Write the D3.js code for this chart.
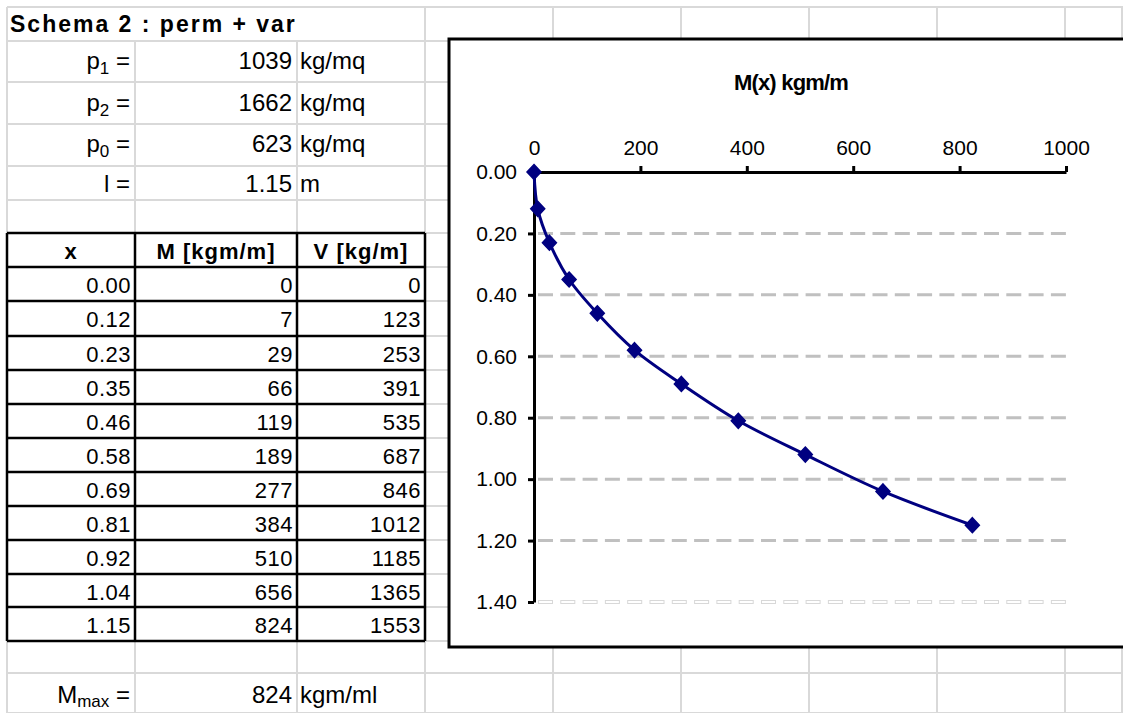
<!DOCTYPE html>
<html>
<head>
<meta charset="utf-8">
<script src="https://cdn.jsdelivr.net/npm/d3@7"></script>
<style>
  html, body { margin: 0; padding: 0; background: #fff; }
  svg { display: block; font-family: "Liberation Sans", Arial, sans-serif; }
  .cell { font-size: 22px; fill: #000; }
  .param { font-size: 24px; fill: #000; }
  .tick text { font-size: 21px; font-family: "Liberation Sans", Arial, sans-serif; fill: #000; }
</style>
</head>
<body>
<svg id="sheet" width="1123" height="713"></svg>
<script>
// spreadsheet data
const title = "Schema 2 : perm + var"
const paramLabels = [["p", "1"], ["p", "2"], ["p", "0"], ["l", ""]]
const paramValues = ["1039", "1662", "623", "1.15"]
const paramUnits = ["kg/mq", "kg/mq", "kg/mq", "m"]

const headers = ["x", "M [kgm/m]", "V [kg/m]"]
const xVals = [0.00, 0.12, 0.23, 0.35, 0.46, 0.58, 0.69, 0.81, 0.92, 1.04, 1.15]
const mVals = [0, 7, 29, 66, 119, 189, 277, 384, 510, 656, 824]
const vVals = [0, 123, 253, 391, 535, 687, 846, 1012, 1185, 1365, 1553]

const mMax = "824"
const mMaxUnit = "kgm/ml"

// chart axis setup
const chartTitle = "M(x) kgm/m"
const xTicks = [0, 200, 400, 600, 800, 1000]
const yTicks = [0, 0.2, 0.4, 0.6, 0.8, 1.0, 1.2, 1.4]

// sheet geometry
const colX = [7, 135, 297, 425, 553, 681, 809, 937, 1065, 1122]
const rowY = [7, 41, 82, 124, 166, 200, 233, 267, 301, 336, 370, 404, 438, 472, 506, 540, 574, 607, 641, 673, 713]

const svg = d3.select("#sheet")
const gridColor = "#d9d9d9"

// gray cell grid
const grid = svg.append("g").attr("stroke", gridColor).attr("stroke-width", 2)
grid.selectAll("line.h")
    .data(rowY)
    .join("line")
    .attr("x1", colX[0]).attr("x2", 1123)
    .attr("y1", d => d).attr("y2", d => d)
grid.selectAll("line.v")
    .data(colX)
    .join("line")
    .attr("x1", d => d).attr("x2", d => d)
    .attr("y1", (d, i) => (i == 1 || i == 2) ? rowY[1] : rowY[0])
    .attr("y2", 713)

// title row
svg.append("text")
    .attr("x", 10).attr("y", 32)
    .attr("font-size", 23)
    .attr("font-weight", "bold")
    .attr("letter-spacing", 2)
    .text(title)

// parameter rows
const paramBase = [69, 111, 152, 192]
const params = svg.append("g").attr("class", "param")
paramLabels.forEach((p, i) => {
    const t = params.append("text")
        .attr("x", 130).attr("y", paramBase[i])
        .attr("text-anchor", "end")
    t.append("tspan").text(p[0])
    if (p[1]) t.append("tspan").attr("font-size", 17).attr("dy", 5).text(p[1])
    t.append("tspan").attr("dy", p[1] ? -5 : 0).text(" =")
    params.append("text")
        .attr("x", 292).attr("y", paramBase[i])
        .attr("text-anchor", "end")
        .text(paramValues[i])
    params.append("text")
        .attr("x", 300).attr("y", paramBase[i])
        .text(paramUnits[i])
})

// data table
const tableTop = rowY[6]
const tableBottom = rowY[18]
const table = svg.append("g")
table.append("rect")
    .attr("x", colX[0]).attr("y", tableTop)
    .attr("width", colX[3] - colX[0]).attr("height", tableBottom - tableTop)
    .attr("fill", "#fff")
table.selectAll("line.rows")
    .data(rowY.slice(6, 19))
    .join("line")
    .attr("x1", colX[0]).attr("x2", colX[3])
    .attr("y1", d => d).attr("y2", d => d)
    .attr("stroke", "#000").attr("stroke-width", 2.5)
table.selectAll("line.cols")
    .data(colX.slice(0, 4))
    .join("line")
    .attr("x1", d => d).attr("x2", d => d)
    .attr("y1", tableTop).attr("y2", tableBottom)
    .attr("stroke", "#000").attr("stroke-width", 2.5)

table.selectAll("text.head")
    .data(headers)
    .join("text")
    .attr("class", "cell")
    .attr("font-weight", "bold")
    .attr("letter-spacing", 1)
    .attr("text-anchor", "middle")
    .attr("x", (d, i) => (colX[i] + colX[i + 1]) / 2)
    .attr("y", tableTop + 26)
    .text(d => d)

const rows = xVals.map((x, i) => [x.toFixed(2), String(mVals[i]), String(vVals[i])])
rows.forEach((r, i) => {
    table.selectAll("text.r" + i)
        .data(r)
        .join("text")
        .attr("class", "cell")
        .attr("text-anchor", "end")
        .attr("letter-spacing", 0.5)
        .attr("x", (d, j) => colX[j + 1] - 4)
        .attr("y", rowY[7 + i] + 26)
        .text(d => d)
})

// M max row
const mmax = svg.append("g").attr("class", "param")
const mt = mmax.append("text").attr("x", 130).attr("y", 703).attr("text-anchor", "end")
mt.append("tspan").text("M")
mt.append("tspan").attr("font-size", 17).attr("dy", 4).text("max")
mt.append("tspan").attr("dy", -4).text(" =")
mmax.append("text").attr("x", 292).attr("y", 703).attr("text-anchor", "end").text(mMax)
mmax.append("text").attr("x", 300).attr("y", 703).text(mMaxUnit)

// chart box
svg.append("rect")
    .attr("x", 449).attr("y", 39)
    .attr("width", 700).attr("height", 608)
    .attr("fill", "#fff")
    .attr("stroke", "#000")
    .attr("stroke-width", 3)

const x = d3.scaleLinear([0, 1000], [534, 1066])
const y = d3.scaleLinear([0, 1.4], [172, 602])

svg.append("text")
    .attr("x", 791).attr("y", 90)
    .attr("text-anchor", "middle")
    .attr("font-size", 22)
    .attr("font-weight", "bold")
    .attr("letter-spacing", -0.8)
    .text(chartTitle)

// dashed gridlines
svg.append("g")
    .selectAll("line")
    .data(yTicks.filter(d => d > 0 && d < 1.3))
    .join("line")
    .attr("x1", x(0)).attr("x2", x(1000))
    .attr("y1", d => y(d)).attr("y2", d => y(d))
    .attr("stroke", "#c0c0c0")
    .attr("stroke-width", 3)
    .attr("stroke-dasharray", "15,7.3")
    .attr("stroke-dashoffset", -4)

// faint last gridline
const last = svg.append("g")
last.append("line")
    .attr("x1", x(0)).attr("x2", x(1000))
    .attr("y1", y(1.4)).attr("y2", y(1.4))
    .attr("stroke", "#d8d8d8").attr("stroke-width", 4)
    .attr("stroke-dasharray", "15,7.3").attr("stroke-dashoffset", -4)
last.append("line")
    .attr("x1", x(0)).attr("x2", x(1000))
    .attr("y1", y(1.4)).attr("y2", y(1.4))
    .attr("stroke", "#fff").attr("stroke-width", 2)
    .attr("stroke-dasharray", "13,9.3").attr("stroke-dashoffset", -5)

// axes
const xAxis = svg.append("g")
    .attr("transform", `translate(0,${y(0)})`)
    .call(d3.axisTop(x).tickValues(xTicks).tickFormat(d3.format("d")).tickSize(6).tickSizeOuter(0).tickPadding(11))
const yAxis = svg.append("g")
    .attr("transform", `translate(${x(0)},0)`)
    .call(d3.axisLeft(y).tickValues(yTicks).tickFormat(d3.format(".2f")).tickSize(6).tickSizeOuter(0).tickPadding(11))

svg.selectAll(".domain, .tick line")
    .attr("stroke", "#000")
    .attr("stroke-width", 3)

// series
const data = xVals.map((d, i) => ({ x: d, m: mVals[i] }))

const line = d3.line()
    .x(d => x(d.m))
    .y(d => y(d.x))
    .curve(d3.curveCatmullRom)

svg.append("path")
    .datum(data)
    .attr("d", line)
    .attr("fill", "none")
    .attr("stroke", "#000080")
    .attr("stroke-width", 3)

const diamond = "M0,-7.5L7,0L0,7.5L-7,0Z"
svg.append("g")
    .selectAll("path")
    .data(data)
    .join("path")
    .attr("d", diamond)
    .attr("transform", d => `translate(${x(d.m)},${y(d.x)})`)
    .attr("fill", "#000080")
    .attr("stroke", "#000080")
    .attr("stroke-width", 1.5)
</script>
</body>
</html>
